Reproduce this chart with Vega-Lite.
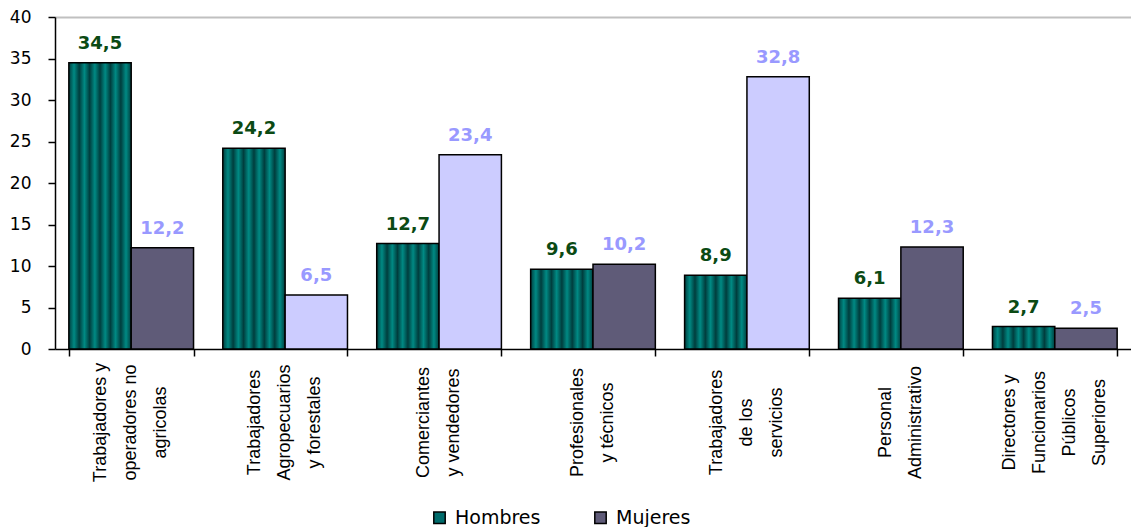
{
  "$schema": "https://vega.github.io/schema/vega-lite/v6.json",
  "width": 1076,
  "height": 332,
  "autosize": {"type": "none"},
  "padding": {"left": 55, "top": 17, "right": 0, "bottom": 178},
  "background": "white",
  "config": {
    "view": {"stroke": null},
    "locale": {"number": {"decimal": ",", "thousands": ".", "grouping": [3], "currency": ["$", ""]}}
  },
  "data": {
    "values": [
      {"ocupacion": "Trabajadores y|operadores no|agricolas", "sexo": "Hombres", "valor": 34.5},
      {"ocupacion": "Trabajadores y|operadores no|agricolas", "sexo": "Mujeres", "valor": 12.2},
      {"ocupacion": "Trabajadores|Agropecuarios|y forestales", "sexo": "Hombres", "valor": 24.2},
      {"ocupacion": "Trabajadores|Agropecuarios|y forestales", "sexo": "Mujeres", "valor": 6.5},
      {"ocupacion": "Comerciantes|y vendedores", "sexo": "Hombres", "valor": 12.7},
      {"ocupacion": "Comerciantes|y vendedores", "sexo": "Mujeres", "valor": 23.4},
      {"ocupacion": "Profesionales|y técnicos", "sexo": "Hombres", "valor": 9.6},
      {"ocupacion": "Profesionales|y técnicos", "sexo": "Mujeres", "valor": 10.2},
      {"ocupacion": "Trabajadores|de los|servicios", "sexo": "Hombres", "valor": 8.9},
      {"ocupacion": "Trabajadores|de los|servicios", "sexo": "Mujeres", "valor": 32.8},
      {"ocupacion": "Personal|Administrativo", "sexo": "Hombres", "valor": 6.1},
      {"ocupacion": "Personal|Administrativo", "sexo": "Mujeres", "valor": 12.3},
      {"ocupacion": "Directores y|Funcionarios|Públicos|Superiores", "sexo": "Hombres", "valor": 2.7},
      {"ocupacion": "Directores y|Funcionarios|Públicos|Superiores", "sexo": "Mujeres", "valor": 2.5}
    ]
  },
  "encoding": {
    "xOffset": {"field": "sexo", "type": "nominal", "scale": {"domain": ["Hombres", "Mujeres"], "paddingInner": 0, "paddingOuter": 0}},
    "y": {
      "field": "valor",
      "type": "quantitative",
      "title": null,
      "scale": {"domain": [0, 40], "nice": false},
      "axis": {
        "values": [0, 5, 10, 15, 20, 25, 30, 35, 40],
        "labelFont": "DejaVu Sans",
        "labelFontSize": 17,
        "labelColor": "black",
        "labelPadding": 17,
        "tickSize": 7,
        "tickColor": "black",
        "tickWidth": 1.5,
        "domainColor": "black",
        "domainWidth": 1.5,
        "grid": true,
        "gridColor": "#c0c0c0",
        "gridWidth": 2,
        "gridOpacity": {"condition": {"test": "datum.value == 40", "value": 1}, "value": 0}
      }
    }
  },
  "resolve": {"axis": {"x": "independent"}},
  "layer": [
    {
      "mark": {"type": "bar", "stroke": "black", "strokeWidth": 1.5},
      "encoding": {
        "x": {
          "field": "ocupacion",
          "type": "nominal",
          "sort": null,
          "title": null,
          "scale": {"paddingInner": 0.19, "paddingOuter": 0.09},
          "axis": {
            "orient": "bottom",
            "labels": false,
            "tickBand": "extent",
            "tickSize": 7,
            "tickColor": "black",
            "tickWidth": 1.5,
            "domainColor": "black",
            "domainWidth": 1.5,
            "grid": false
          }
        },
        "color": {
          "field": "sexo",
          "type": "nominal",
          "scale": {"domain": ["Hombres", "Mujeres"], "range": ["#006b6b", "#5f5b78"]},
          "condition": [
            {
              "test": "datum.sexo == 'Hombres'",
              "value": {
                "gradient": "linear", "x1": 0, "y1": 0, "x2": 1, "y2": 0,
                "stops": [
                  {"offset": 0, "color": "#003d3d"},
                  {"offset": 0.0833, "color": "#008a84"},
                  {"offset": 0.1667, "color": "#003d3d"},
                  {"offset": 0.25, "color": "#008a84"},
                  {"offset": 0.3333, "color": "#003d3d"},
                  {"offset": 0.4167, "color": "#008a84"},
                  {"offset": 0.5, "color": "#003d3d"},
                  {"offset": 0.5833, "color": "#008a84"},
                  {"offset": 0.6667, "color": "#003d3d"},
                  {"offset": 0.75, "color": "#008a84"},
                  {"offset": 0.8333, "color": "#003d3d"},
                  {"offset": 0.9167, "color": "#008a84"},
                  {"offset": 1, "color": "#003d3d"}
                ]
              }
            },
            {
              "test": "datum.sexo == 'Mujeres' && indexof(['Trabajadores|Agropecuarios|y forestales', 'Comerciantes|y vendedores', 'Trabajadores|de los|servicios'], datum.ocupacion) >= 0",
              "value": "#ccccff"
            }
          ],
          "legend": {
            "title": null,
            "orient": "none",
            "legendX": 375,
            "legendY": 491,
            "direction": "horizontal",
            "symbolType": "square",
            "symbolSize": 130,
            "symbolStrokeColor": "black",
            "symbolStrokeWidth": 1.5,
            "labelFont": "DejaVu Sans",
            "labelFontSize": 19,
            "labelColor": "black",
            "labelOffset": 6,
            "columnPadding": 50
          }
        }
      }
    },
    {
      "mark": {"type": "text", "dy": -14, "baseline": "alphabetic", "font": "DejaVu Sans", "fontWeight": "bold", "fontSize": 18},
      "encoding": {
        "x": {
          "field": "ocupacion",
          "type": "nominal",
          "sort": null,
          "title": null,
          "scale": {"paddingInner": 0.19, "paddingOuter": 0.09},
          "axis": {
            "orient": "bottom",
            "labelExpr": "split(datum.value, '|')",
            "labelAngle": -90,
            "labelAlign": "center",
            "labelBaseline": "middle",
            "labelPadding": 73,
            "labelOffset": {"expr": "-15 * (length(split(datum.value, '|')) - 1)"},
            "labelLineHeight": 30,
            "labelFont": "Liberation Sans",
            "labelFontSize": 18,
            "labelColor": "black",
            "labelLimit": 0,
            "ticks": false,
            "tickSize": 0,
            "domain": false,
            "grid": false
          }
        },
        "text": {"field": "valor", "type": "quantitative", "format": ".1f"},
        "color": {
          "condition": {"test": "datum.sexo == 'Hombres'", "value": "#0b4a14"},
          "value": "#9999ff"
        }
      }
    }
  ]
}
